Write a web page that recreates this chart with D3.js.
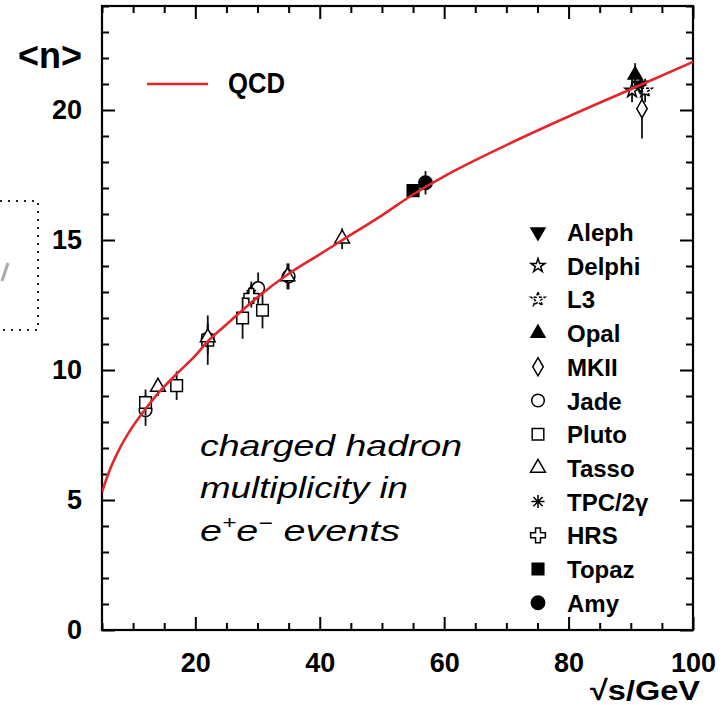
<!DOCTYPE html>
<html><head><meta charset="utf-8">
<script src="https://cdn.jsdelivr.net/npm/d3@7"></script>
<style>
html,body{margin:0;padding:0;background:#fff;}
svg{display:block;}
.lbl{font-family:"Liberation Sans Narrow","Liberation Sans",Arial,sans-serif;font-weight:bold;fill:#000;}
.it{font-family:"Liberation Sans",Arial,sans-serif;font-style:italic;fill:#000;}
</style></head><body>
<svg id="c" width="724" height="705"></svg>
<script>
// ---------- data ----------
const yTicks = [0, 5, 10, 15, 20];
const xTicks = [20, 40, 60, 80, 100];
// QCD curve
const qcdE = [5, 6, 8, 10, 12, 14, 17, 20, 22, 25, 30, 35, 40, 44, 50, 55, 60, 70, 80, 90, 100];
const qcdN = [5.3, 6.0, 7.05, 7.85, 8.5, 9.1, 9.85, 10.55, 11.1, 11.75, 12.8, 13.7, 14.45, 15.05, 15.95, 16.75, 17.45, 18.65, 19.75, 20.8, 21.85];
// [sqrt(s), <n>, error]
const aleph  = [[91.5, 20.95, 0.3]];
const delphi = [[90.2, 20.75, 0.45]];
const l3     = [[92.3, 20.75, 0.45]];
const opal   = [[90.7, 21.35, 0.45]];
const mk2    = [[29.0, 12.9, 0.5], [91.8, 20.05, 1.15]];
const jade   = [[12, 8.45, 0.6], [22, 11.2, 0.6], [30.1, 13.15, 0.6], [35, 13.6, 0.5]];
const pluto  = [[12, 8.75, 0.5], [17, 9.4, 0.55], [22, 11.15, 0.95], [27.6, 12.0, 0.8], [30.8, 12.3, 0.7]];
const tasso  = [[14, 9.35, 0.35], [22, 11.25, 0.5], [34.8, 13.6, 0.5], [43.6, 15.05, 0.4]];
const tpc    = [[29, 12.9, 0.3]];
const hrs    = [[29, 12.85, 0.35]];
const topaz  = [[55, 16.9, 0.25]];
const amy    = [[57, 17.2, 0.45]];
const names  = ["Aleph", "Delphi", "L3", "Opal", "MKII", "Jade", "Pluto", "Tasso", "TPC/2γ", "HRS", "Topaz", "Amy"];
const series = [aleph, delphi, l3, opal, mk2, jade, pluto, tasso, tpc, hrs, topaz, amy];

// ---------- styles ----------
const asterisk8 = {draw(ctx, size){const r = Math.sqrt(size)/2; for (const a of [0,45,90,135]){const t=a*Math.PI/180; ctx.moveTo(r*Math.cos(t), r*Math.sin(t)); ctx.lineTo(-r*Math.cos(t), -r*Math.sin(t));}}};
const styles = [
  {type: d3.symbolTriangle, size: 85, fill: true, rot: 180},
  {type: d3.symbolStar, size: 60, fill: false},
  {type: d3.symbolStar, size: 60, fill: false, dash: "3,1.5"},
  {type: d3.symbolTriangle, size: 85, fill: true},
  {type: d3.symbolDiamond, size: 95, fill: false},
  {type: d3.symbolCircle, size: 125, fill: false},
  {type: d3.symbolSquare, size: 135, fill: false},
  {type: d3.symbolTriangle, size: 95, fill: false},
  {type: asterisk8, size: 170, fill: false, line: true},
  {type: d3.symbolCross, size: 120, fill: false},
  {type: d3.symbolSquare, size: 135, fill: true},
  {type: d3.symbolCircle, size: 140, fill: true}
];

const svg = d3.select("#c");
const x = d3.scaleLinear().domain([5, 100]).range([102, 693]);
const y = d3.scaleLinear().domain([0, 24]).range([630, 6]);

// dotted box at left edge and a stray stroke of a cut-off glyph
svg.append("path").attr("d", "M0,201H38V330H0").attr("fill", "none")
  .attr("stroke", "#222").attr("stroke-width", 2).attr("stroke-dasharray", "2,6");
svg.append("path").attr("d", "M8,263L2,281").attr("stroke", "#aaa").attr("stroke-width", 3).attr("fill", "none");

// axes
function styleAxis(g){ g.select(".domain").remove(); g.selectAll("line").attr("stroke", "#000").attr("stroke-width", 2); g.attr("font-family", null).attr("font-size", null); }
const minorX = d3.range(5, 101, 5).filter(v => v % 20 !== 0);
const minorY = d3.range(0, 25, 1).filter(v => v % 5 !== 0);

svg.append("g").attr("transform", `translate(0,${y(0)})`)
  .call(d3.axisBottom(x).tickValues(xTicks).tickSizeInner(-13).tickSizeOuter(0).tickPadding(23).tickFormat(d3.format("d")))
  .call(styleAxis).selectAll("text").attr("class", "lbl").attr("font-size", 27);
svg.append("g").attr("transform", `translate(0,${y(0)})`)
  .call(d3.axisBottom(x).tickValues(minorX).tickSizeInner(-7).tickSizeOuter(0).tickFormat(""))
  .call(styleAxis);
svg.append("g").attr("transform", `translate(0,${y(24)})`)
  .call(d3.axisTop(x).tickValues(xTicks).tickSizeInner(-13).tickSizeOuter(0).tickFormat(""))
  .call(styleAxis);
svg.append("g").attr("transform", `translate(0,${y(24)})`)
  .call(d3.axisTop(x).tickValues(minorX).tickSizeInner(-7).tickSizeOuter(0).tickFormat(""))
  .call(styleAxis);
svg.append("g").attr("transform", `translate(${x(5)},0)`)
  .call(d3.axisLeft(y).tickValues(yTicks).tickSizeInner(-13).tickSizeOuter(0).tickPadding(20).tickFormat(d3.format("d")))
  .call(styleAxis).selectAll("text").attr("class", "lbl").attr("font-size", 27);
svg.append("g").attr("transform", `translate(${x(5)},0)`)
  .call(d3.axisLeft(y).tickValues(minorY).tickSizeInner(-7).tickSizeOuter(0).tickFormat(""))
  .call(styleAxis);
svg.append("g").attr("transform", `translate(${x(100)},0)`)
  .call(d3.axisRight(y).tickValues(yTicks).tickSizeInner(-13).tickSizeOuter(0).tickFormat(""))
  .call(styleAxis);
svg.append("g").attr("transform", `translate(${x(100)},0)`)
  .call(d3.axisRight(y).tickValues(minorY).tickSizeInner(-7).tickSizeOuter(0).tickFormat(""))
  .call(styleAxis);

// frame
svg.append("rect").attr("x", x(5)).attr("y", y(24)).attr("width", x(100) - x(5)).attr("height", y(0) - y(24))
  .attr("fill", "none").attr("stroke", "#000").attr("stroke-width", 2.2);

// data points
function markerPath(st){ return d3.symbol().type(st.type).size(st.size)(); }
series.forEach((pts, i) => {
  const st = styles[i];
  const g = svg.append("g");
  g.selectAll("line.err").data(pts).join("line").attr("class", "err")
    .attr("x1", d => x(d[0])).attr("x2", d => x(d[0]))
    .attr("y1", d => y(d[1] - d[2])).attr("y2", d => y(d[1] + d[2]))
    .attr("stroke", "#111").attr("stroke-width", 1.8);
  g.selectAll("path.m").data(pts).join("path").attr("class", "m")
    .attr("d", markerPath(st))
    .attr("transform", d => `translate(${x(d[0])},${y(d[1])}) rotate(${st.rot || 0})`)
    .attr("fill", st.fill ? "#000" : (st.line ? "none" : "#fff"))
    .attr("stroke", "#000").attr("stroke-width", 1.5)
    .attr("stroke-dasharray", st.dash || null);
});

// QCD curve
svg.append("clipPath").attr("id", "clip").append("rect")
  .attr("x", x(5)).attr("y", y(24)).attr("width", x(100) - x(5)).attr("height", y(0) - y(24));
const line = d3.line().x((d, i) => x(qcdE[i])).y(d => y(d)).curve(d3.curveMonotoneX);
svg.append("path").attr("d", line(qcdN)).attr("clip-path", "url(#clip)")
  .attr("fill", "none").attr("stroke", "#e3262b").attr("stroke-width", 2.6);

// QCD legend
svg.append("line").attr("x1", 147).attr("x2", 208).attr("y1", 84).attr("y2", 84)
  .attr("stroke", "#e3262b").attr("stroke-width", 2.6);
svg.append("text").attr("class", "lbl").attr("x", 228).attr("y", 93).attr("font-size", 29)
  .attr("textLength", 57).attr("lengthAdjust", "spacingAndGlyphs").text("QCD");

// experiment legend
const lg = svg.append("g");
names.forEach((nm, i) => {
  const st = styles[i];
  const cy = 232 + i * 33.7;
  lg.append("path").attr("d", markerPath(st))
    .attr("transform", `translate(538,${cy}) rotate(${st.rot || 0})`)
    .attr("fill", st.fill ? "#000" : (st.line ? "none" : "#fff"))
    .attr("stroke", "#000").attr("stroke-width", 1.5).attr("stroke-dasharray", st.dash || null);
  lg.append("text").attr("class", "lbl").attr("x", 567).attr("y", cy + 9).attr("font-size", 24).text(nm);
});

// axis titles
svg.append("text").attr("class", "lbl").attr("x", 18).attr("y", 68).attr("font-size", 36)
  .attr("textLength", 64).attr("lengthAdjust", "spacingAndGlyphs").text("<n>");
svg.append("text").attr("class", "lbl").attr("x", 590).attr("y", 700).attr("font-size", 28)
  .attr("textLength", 110).attr("lengthAdjust", "spacingAndGlyphs").text("√s/GeV");

// annotation
const ann = svg.append("g");
ann.append("text").attr("class", "it").attr("x", 200).attr("y", 456).attr("font-size", 29)
  .attr("textLength", 262).attr("lengthAdjust", "spacingAndGlyphs").text("charged hadron");
ann.append("text").attr("class", "it").attr("x", 200).attr("y", 498).attr("font-size", 29)
  .attr("textLength", 208).attr("lengthAdjust", "spacingAndGlyphs").text("multiplicity in");
const t3 = ann.append("text").attr("class", "it").attr("x", 200).attr("y", 541).attr("font-size", 29)
  .attr("textLength", 200).attr("lengthAdjust", "spacingAndGlyphs");
t3.append("tspan").text("e");
t3.append("tspan").attr("font-size", 18).attr("dy", -12).text("+");
t3.append("tspan").attr("dy", 12).text("e");
t3.append("tspan").attr("font-size", 18).attr("dy", -12).text("−");
t3.append("tspan").attr("dy", 12).text(" events");
</script>
</body></html>
